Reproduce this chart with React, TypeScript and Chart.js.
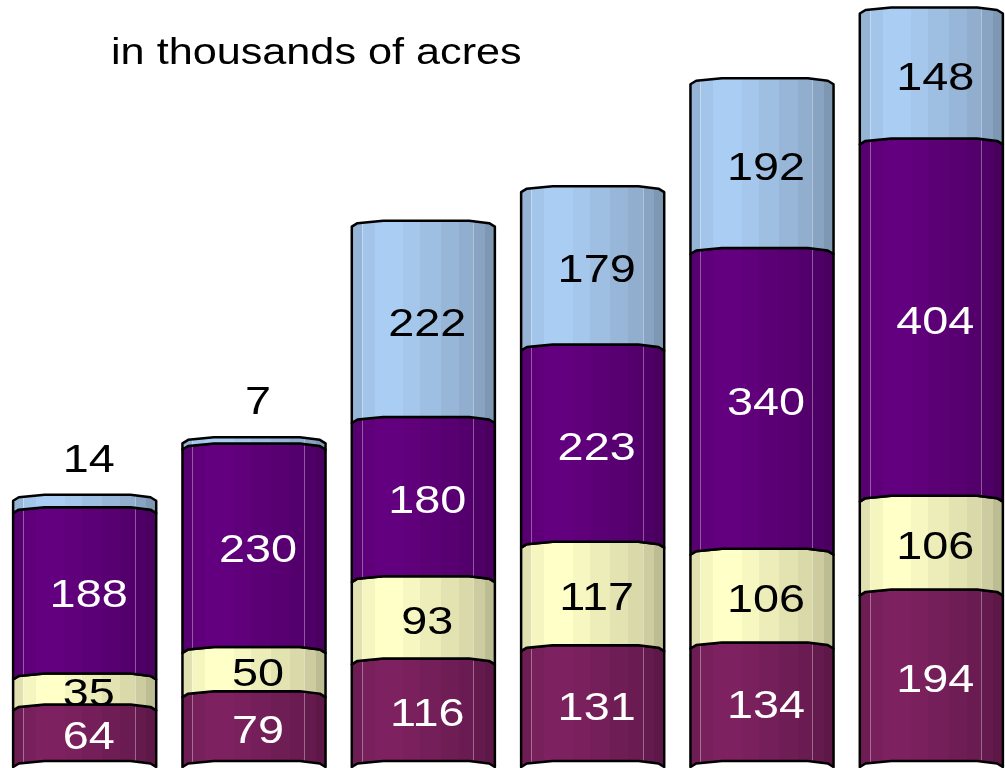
import React, { useEffect, useRef } from "react";
import { Chart, registerables } from "chart.js";

Chart.register(...registerables);

const categories = ["Bar 1", "Bar 2", "Bar 3", "Bar 4", "Bar 5", "Bar 6"];
const seriesNames = ["Series A", "Series B", "Series C", "Series D"];
const maroonValues = [64, 79, 116, 131, 134, 194];
const yellowValues = [35, 50, 93, 117, 106, 106];
const purpleValues = [188, 230, 180, 223, 340, 404];
const blueValues = [14, 7, 222, 179, 192, 148];
const yMax = 865;
const titleText = "in thousands of acres";

const baseColors: [number, number, number][] = [
  [125, 33, 96],
  [255, 255, 200],
  [99, 0, 127],
  [170, 205, 243],
];
const textColors = ["#ffffff", "#000000", "#ffffff", "#000000"];

const facets: [number, number, number][] = [
  [0.0, 0.07, 0.88],
  [0.07, 0.16, 0.96],
  [0.16, 0.36, 1.0],
  [0.36, 0.48, 0.97],
  [0.48, 0.62, 0.93],
  [0.62, 0.75, 0.89],
  [0.75, 0.85, 0.85],
  [0.85, 0.93, 0.8],
  [0.93, 1.0, 0.74],
];

function shade(c: [number, number, number], k: number) {
  return `rgb(${Math.round(c[0] * k)},${Math.round(c[1] * k)},${Math.round(c[2] * k)})`;
}

const FONT = '"Liberation Sans", Arial, sans-serif';
const STRETCH = 1.2;

const cylinderPlugin = {
  id: "cylinders",
  afterDatasetsDraw(chart: any) {
    const ctx: CanvasRenderingContext2D = chart.ctx;
    const tops: number[] = [];
    chart.data.datasets.forEach((ds: any, di: number) => {
      const meta = chart.getDatasetMeta(di);
      meta.data.forEach((el: any, i: number) => {
        const p = el.getProps(["x", "y", "base", "width"], true);
        const w = p.width;
        const left = p.x - w / 2;
        const right = p.x + w / 2;
        const top = Math.min(p.y, p.base);
        const bot = Math.max(p.y, p.base);
        tops[i] = top;
        const edge = (yy: number, forward: boolean) => {
          const pts: [number, number][] = [
            [left, yy + 2],
            [left + 0.04 * w, yy - 1.5],
            [left + 0.22 * w, yy - 4],
            [right - 0.18 * w, yy - 4],
            [right - 0.04 * w, yy - 1.5],
            [right, yy + 2],
          ];
          if (!forward) pts.reverse();
          return pts;
        };
        const path = () => {
          ctx.beginPath();
          const t = edge(top, true);
          ctx.moveTo(t[0][0], t[0][1]);
          for (let k = 1; k < t.length; k++) ctx.lineTo(t[k][0], t[k][1]);
          const b = edge(bot, false);
          for (let k = 0; k < b.length; k++) ctx.lineTo(b[k][0], b[k][1]);
          ctx.closePath();
        };
        const g = ctx.createLinearGradient(left, 0, right, 0);
        const c = baseColors[di];
        facets.forEach(([a, b, k]) => {
          g.addColorStop(a, shade(c, k));
          g.addColorStop(b, shade(c, k));
        });
        ctx.save();
        path();
        ctx.fillStyle = g;
        ctx.fill();
        ctx.clip();
        ctx.strokeStyle = "rgba(255,255,255,0.35)";
        ctx.lineWidth = 1;
        [0.07, 0.85].forEach((f) => {
          ctx.beginPath();
          ctx.moveTo(Math.round(left + f * w) + 0.5, top - 6);
          ctx.lineTo(Math.round(left + f * w) + 0.5, bot + 6);
          ctx.stroke();
        });
        ctx.restore();
        ctx.save();
        path();
        ctx.strokeStyle = "#000";
        ctx.lineWidth = 2.5;
        ctx.lineJoin = "round";
        ctx.stroke();
        ctx.restore();
      });
    });
    // labels
    chart.data.datasets.forEach((ds: any, di: number) => {
      const meta = chart.getDatasetMeta(di);
      meta.data.forEach((el: any, i: number) => {
        const p = el.getProps(["x", "y", "base"], true);
        const top = Math.min(p.y, p.base);
        const bot = Math.max(p.y, p.base);
        const h = bot - top;
        let cx = p.x + 4;
        let cy = (top + bot) / 2;
        let color = textColors[di];
        if (h < 30 && di === chart.data.datasets.length - 1) {
          cy = top - 40;
          color = "#000";
        }
        ctx.save();
        ctx.translate(cx, cy);
        ctx.scale(STRETCH, 1);
        ctx.font = `39px ${FONT}`;
        ctx.fillStyle = color;
        ctx.textAlign = "center";
        ctx.textBaseline = "middle";
        ctx.fillText(String(ds.data[i]), 0, 2);
        ctx.restore();
      });
    });
  },
  afterDraw(chart: any) {
    const ctx: CanvasRenderingContext2D = chart.ctx;
    ctx.save();
    ctx.translate(111, 64);
    ctx.scale(STRETCH, 1);
    ctx.font = `36px ${FONT}`;
    ctx.fillStyle = "#000";
    ctx.textAlign = "left";
    ctx.textBaseline = "alphabetic";
    ctx.fillText(titleText, 0, 0);
    ctx.restore();
  },
};

export default function App() {
  const ref = useRef<HTMLCanvasElement | null>(null);
  useEffect(() => {
    if (!ref.current) return;
    const seriesValues = [maroonValues, yellowValues, purpleValues, blueValues];
    const chart = new Chart(ref.current, {
      type: "bar",
      data: {
        labels: categories,
        datasets: seriesValues.map((vals, i) => ({
          label: seriesNames[i],
          data: vals,
          backgroundColor: "rgba(0,0,0,0)",
          borderWidth: 0,
          barPercentage: 0.845,
          categoryPercentage: 1,
        })),
      },
      options: {
        responsive: false,
        animation: false,
        layout: { padding: { left: 0, right: 0, top: 0, bottom: 3 } },
        plugins: {
          legend: { display: false },
          tooltip: { enabled: false },
          title: { display: false },
        },
        scales: {
          x: { stacked: true, display: false },
          y: { stacked: true, display: false, min: 0, max: yMax },
        },
      },
      plugins: [cylinderPlugin],
    });
    return () => chart.destroy();
  }, []);
  return (
    <div
      style={{
        position: "fixed",
        left: 0,
        top: 0,
        width: 1005,
        height: 768,
        overflow: "hidden",
        background: "#fff",
      }}
    >
      <canvas ref={ref} width={1016} height={768} style={{ display: "block" }} />
    </div>
  );
}
